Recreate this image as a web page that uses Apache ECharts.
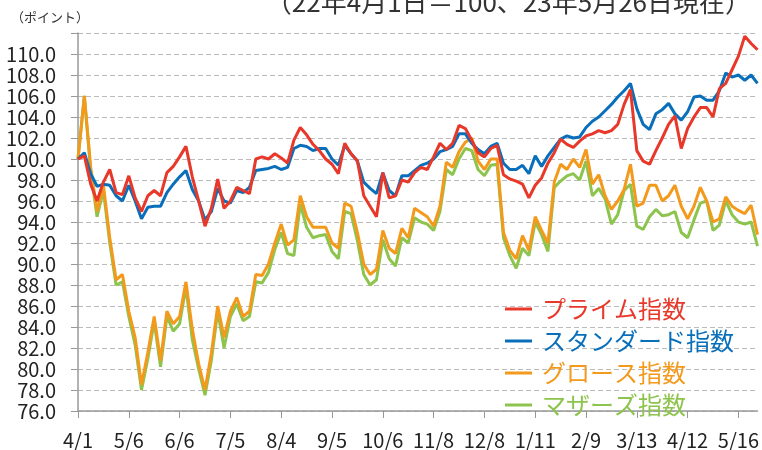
<!DOCTYPE html>
<html>
<head>
<meta charset="utf-8">
<script src="https://cdn.jsdelivr.net/npm/echarts@6/dist/echarts.min.js"></script>
<style>
  html, body { margin: 0; padding: 0; background: #fff; }
  #chart { width: 762px; height: 450px; }
</style>
</head>
<body>
<div id="chart"></div>
<script>
// month labels, one every 8 points
var months = ['4/1','5/6','6/6','7/5','8/4','9/5','10/6','11/8','12/8','1/11','2/9','3/13','4/12','5/16'];
var perMonth = 8;

var prime = [
  100.0,100.3,97.6,96.0,97.8,99.0,96.8,96.6,
  98.4,96.3,95.0,96.5,97.0,96.5,98.7,99.3,
  100.2,101.2,98.3,96.0,93.6,95.3,98.1,95.3,
  96.0,97.3,97.0,96.7,100.0,100.2,100.0,100.5,
  100.1,99.6,101.8,103.0,102.3,101.4,100.8,100.0,
  99.5,98.6,101.5,100.5,99.8,96.5,95.5,94.5,
  98.7,96.3,96.5,98.0,97.8,98.7,99.2,99.0,
  100.2,101.5,100.9,101.5,103.2,102.9,101.8,100.6,
  100.2,101.0,101.3,98.5,98.1,97.9,97.6,96.3,
  97.5,98.2,99.6,100.6,101.9,101.4,101.1,101.7,
  102.2,102.4,102.7,102.5,102.7,103.3,105.2,106.6,
  100.8,99.8,99.5,100.8,102.0,103.3,104.1,101.0,
  102.9,104.0,104.9,104.9,104.0,106.7,107.2,108.5,
  109.8,111.7,111.0,110.4
];
var standard = [
  100.0,100.6,98.6,97.4,97.6,97.5,96.5,96.0,
  97.5,96.0,94.3,95.4,95.5,95.5,96.8,97.6,
  98.3,98.9,97.1,96.0,94.2,95.0,97.2,96.0,
  95.8,97.0,96.8,97.3,98.9,99.0,99.1,99.3,
  99.0,99.2,101.0,101.3,101.2,100.8,101.0,101.0,
  100.0,99.4,101.3,100.5,99.8,97.8,97.2,96.7,
  98.7,97.0,96.5,98.4,98.4,98.9,99.4,99.6,
  100.0,100.7,100.9,101.2,102.4,102.4,101.5,100.9,
  100.5,101.2,101.5,99.6,99.0,99.0,99.4,98.6,
  100.3,99.3,100.3,101.1,101.9,102.2,102.0,102.1,
  103.0,103.6,104.0,104.6,105.2,105.9,106.5,107.2,
  104.8,103.3,102.8,104.3,104.7,105.3,104.3,103.7,
  104.5,105.9,106.0,105.6,105.6,106.5,108.2,107.8,
  108.0,107.5,108.0,107.2
];
var growth = [
  100.0,106.0,99.2,95.0,97.5,92.5,88.5,89.0,
  85.5,83.0,78.5,81.6,85.0,80.8,85.5,84.3,
  85.0,88.3,83.8,80.5,78.0,81.5,86.0,83.0,
  85.5,86.8,85.0,85.5,89.0,88.9,90.0,92.0,
  93.8,91.8,92.3,96.5,94.5,93.5,93.5,93.5,
  92.0,91.5,95.8,95.5,93.0,90.0,89.0,89.5,
  93.2,91.5,91.0,93.4,92.5,95.3,94.9,94.5,
  93.6,95.5,99.7,99.2,100.7,101.6,102.0,99.8,
  99.0,100.0,100.0,93.0,91.3,90.5,92.7,91.3,
  94.5,93.2,92.0,97.8,99.5,99.0,100.0,99.2,
  100.9,97.6,98.5,96.5,95.2,96.0,97.1,99.5,
  95.5,95.8,97.5,97.5,96.0,96.5,97.5,95.5,
  94.3,95.5,97.3,96.0,94.0,94.3,96.4,95.5,
  95.1,94.8,95.6,92.8
];
var mothers = [
  100.0,106.0,98.8,94.5,97.0,92.0,88.0,88.3,
  85.0,82.3,78.0,81.0,84.5,80.2,85.0,83.6,
  84.3,87.8,82.8,80.0,77.5,80.8,85.5,82.0,
  85.0,86.2,84.6,85.0,88.3,88.2,89.2,91.4,
  93.0,91.0,90.8,95.7,93.5,92.5,92.7,92.8,
  91.2,90.5,95.0,94.8,92.2,89.0,88.0,88.5,
  92.3,90.5,89.8,92.5,92.0,94.4,94.0,93.8,
  93.2,95.0,99.0,98.5,100.0,101.0,100.8,99.0,
  98.4,99.4,99.5,92.5,90.8,89.6,91.5,90.8,
  94.0,92.8,91.2,97.3,97.9,98.4,98.6,98.0,
  99.8,96.5,97.2,96.2,93.8,94.7,97.0,97.6,
  93.6,93.3,94.5,95.2,94.6,94.7,95.0,93.0,
  92.5,94.2,95.8,96.0,93.2,93.7,96.0,94.7,
  94.0,93.8,94.0,91.7
];

var days = prime.map(function (v, i) { return String(i); });

var font = 'Noto Sans CJK JP';
var colors = { prime: '#e8382a', standard: '#0a6fba', growth: '#f39a1c', mothers: '#8dc44e' };

var myChart = echarts.init(document.getElementById('chart'));
myChart.setOption({
  animation: false,
  textStyle: { fontFamily: font },
  title: [
    {
      text: '（ポイント）',
      left: 6,
      top: 6,
      textStyle: { fontSize: 13, fontWeight: 'normal', color: '#333', fontFamily: font }
    },
    {
      text: '（22年4月1日＝100、23年5月26日現在）',
      right: 6,
      top: -16,
      textStyle: { fontSize: 26, fontWeight: 'normal', color: '#333', fontFamily: font }
    }
  ],
  grid: { left: 78, right: 4, top: 33, bottom: 37 },
  legend: {
    orient: 'vertical',
    left: 500,
    top: 292,
    itemWidth: 27,
    itemHeight: 3,
    itemGap: 8,
    icon: 'rect',
    itemStyle: { borderWidth: 0 },
    lineStyle: { width: 0, opacity: 0 },
    textStyle: { fontSize: 24, lineHeight: 24, fontFamily: font, padding: [0, 0, 0, 5] },
    data: [
      { name: 'プライム指数', textStyle: { color: colors.prime } },
      { name: 'スタンダード指数', textStyle: { color: colors.standard } },
      { name: 'グロース指数', textStyle: { color: colors.growth } },
      { name: 'マザーズ指数', textStyle: { color: colors.mothers } }
    ]
  },
  xAxis: {
    type: 'category',
    data: days,
    boundaryGap: false,
    axisLine: { lineStyle: { color: '#999', width: 1.5 } },
    axisTick: {
      length: 7,
      lineStyle: { color: '#999' },
      interval: function (index) { return index % perMonth === 0; }
    },
    axisLabel: {
      interval: function (index) { return index % perMonth === 0; },
      formatter: function (value, index) { return months[index / perMonth] || ''; },
      fontSize: 20,
      color: '#222',
      margin: 19,
      fontFamily: font
    },
    splitLine: { show: false }
  },
  yAxis: {
    type: 'value',
    min: 76,
    max: 112,
    interval: 2,
    axisLine: { show: true, lineStyle: { color: '#999', width: 1.5 } },
    axisTick: { show: true, length: 7, lineStyle: { color: '#999' } },
    axisLabel: {
      fontSize: 20,
      color: '#222',
      margin: 22,
      fontFamily: font,
      formatter: function (v) { return v >= 112 ? '' : v.toFixed(1); }
    },
    splitLine: { lineStyle: { color: '#bbb', type: [5, 3], width: 1 } }
  },
  series: [
    { name: 'マザーズ指数', type: 'line', data: mothers, symbol: 'none', color: colors.mothers, lineStyle: { width: 3 } },
    { name: 'グロース指数', type: 'line', data: growth, symbol: 'none', color: colors.growth, lineStyle: { width: 3 } },
    { name: 'スタンダード指数', type: 'line', data: standard, symbol: 'none', color: colors.standard, lineStyle: { width: 3 } },
    { name: 'プライム指数', type: 'line', data: prime, symbol: 'none', color: colors.prime, lineStyle: { width: 3 } }
  ]
});
</script>
</body>
</html>
